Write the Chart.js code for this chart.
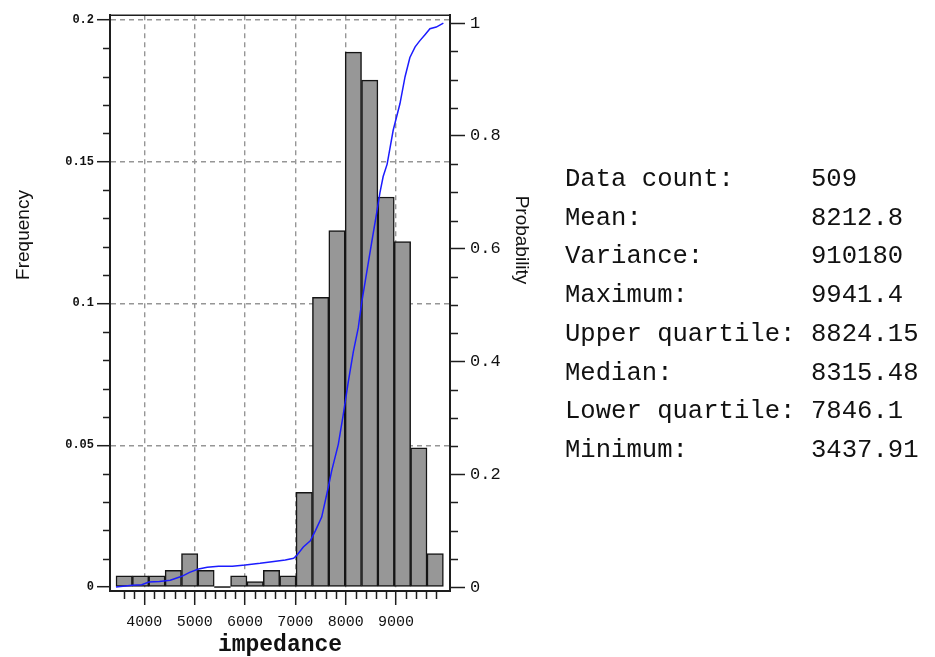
<!DOCTYPE html>
<html>
<head>
<meta charset="utf-8">
<title>impedance histogram</title>
<script src="https://cdn.jsdelivr.net/npm/chart.js@4.4.0/dist/chart.umd.min.js"></script>
<style>
  html, body { margin: 0; padding: 0; background: #fff; }
  #wrap { position: relative; width: 935px; height: 657px; overflow: hidden; }
  #chart { position: absolute; left: 0; top: 0; }
  #stats {
    position: absolute; left: 565px; top: 161px;
    font-family: "Liberation Mono", monospace; font-size: 25.6px; line-height: 38.7px;
    color: #111; white-space: pre;
  }
  #stats .lbl { display: inline-block; width: 246px; }
</style>
</head>
<body>
<div id="wrap">
  <canvas id="chart" width="935" height="657"></canvas>
  <div id="stats"></div>
</div>
<script>
// histogram of impedance: bin centres and sample counts per bin
const binCenters = [3600.5, 3925.7, 4250.8, 4576.0, 4901.2, 5226.3, 5551.5, 5876.7, 6201.8, 6527.0,
                    6852.2, 7177.3, 7502.5, 7827.7, 8152.8, 8478.0, 8803.2, 9128.3, 9453.5, 9778.7];
const binCounts = [2, 2, 2, 3, 6, 3, 0, 2, 1, 3, 2, 17, 52, 64, 96, 91, 70, 62, 25, 6];

// cumulative probability curve
const cdfX = [3438, 3760, 3950, 4090, 4300, 4515, 4745, 4900, 5078, 5250, 5475, 5750, 6005, 6300, 6535,
              6800, 6966, 7027, 7159, 7298, 7400, 7524, 7655, 7722, 7854, 7953, 8052, 8152, 8251, 8319,
              8418, 8517, 8617, 8682, 8745, 8824, 8944, 9078, 9180, 9276, 9380, 9475, 9580, 9674, 9800, 9941];
const cdfP = [0.000, 0.003, 0.004, 0.009, 0.010, 0.012, 0.019, 0.026, 0.032, 0.035, 0.037, 0.037, 0.039, 0.042, 0.045,
              0.048, 0.051, 0.056, 0.071, 0.082, 0.100, 0.124, 0.177, 0.206, 0.253, 0.306, 0.364, 0.417, 0.460, 0.505,
              0.558, 0.611, 0.664, 0.700, 0.728, 0.750, 0.810, 0.857, 0.905, 0.939, 0.958, 0.969, 0.980, 0.990, 0.993, 1.000];

// summary statistics
const statLabels = ['Data count:', 'Mean:', 'Variance:', 'Maximum:', 'Upper quartile:', 'Median:', 'Lower quartile:', 'Minimum:'];
const statValues = ['509', '8212.8', '910180', '9941.4', '8824.15', '8315.48', '7846.1', '3437.91'];

// axis ticks
const xTicks = [4000, 5000, 6000, 7000, 8000, 9000];
const freqTicks = [0, 0.05, 0.1, 0.15, 0.2];
const probTicks = [0, 0.2, 0.4, 0.6, 0.8, 1];

const dataCount = Number(statValues[0]);
const frameColor = '#1e1e1e';
const gridColor = '#969696';

// minor tick values between the labelled ones
const xMinor = [];
for (let v = 3600; v <= 9800; v += 200) if (v % 1000) xMinor.push(v);
const freqMinor = [];
for (let i = 1; i < 20; i++) if (i % 5) freqMinor.push(i / 100);
const probMinor = [];
for (let i = 1; i < 20; i++) if (i % 4) probMinor.push(i / 20);

// frame top, empty-bin baseline, minor ticks and axis titles
const decorations = {
  id: 'decorations',
  afterDatasetsDraw(chart) {
    const { ctx, scales } = chart;
    const base = scales.y.getPixelForValue(0);
    const half = (scales.x.getPixelForValue(binCenters[1]) - scales.x.getPixelForValue(binCenters[0])) / 2;
    ctx.save();
    ctx.strokeStyle = '#151515';
    ctx.lineWidth = 1.5;
    ctx.beginPath();
    binCounts.forEach((c, i) => {
      if (c > 0) return;
      const px = scales.x.getPixelForValue(binCenters[i]);
      ctx.moveTo(px - half, base);
      ctx.lineTo(px + half, base);
    });
    ctx.stroke();
    ctx.restore();
  },
  afterDraw(chart) {
    const { ctx, chartArea: a, scales } = chart;
    ctx.save();
    ctx.strokeStyle = frameColor;
    ctx.lineWidth = 1.5;
    ctx.beginPath();
    ctx.moveTo(a.left, a.top);
    ctx.lineTo(a.right, a.top);
    xMinor.forEach(v => {
      const px = Math.round(scales.x.getPixelForValue(v)) + 0.5;
      ctx.moveTo(px, a.bottom);
      ctx.lineTo(px, a.bottom + 8);
    });
    freqMinor.forEach(v => {
      const py = Math.round(scales.y.getPixelForValue(v)) + 0.5;
      ctx.moveTo(a.left, py);
      ctx.lineTo(a.left - 7, py);
    });
    probMinor.forEach(v => {
      const py = Math.round(scales.y1.getPixelForValue(v)) + 0.5;
      ctx.moveTo(a.right, py);
      ctx.lineTo(a.right + 8, py);
    });
    ctx.stroke();

    ctx.fillStyle = '#111';
    ctx.textAlign = 'center';
    ctx.textBaseline = 'middle';
    ctx.font = '19px "Liberation Sans", Arial, sans-serif';
    ctx.save();
    ctx.translate(24, 235);
    ctx.rotate(-Math.PI / 2);
    ctx.fillText('Frequency', 0, 0);
    ctx.restore();
    ctx.save();
    ctx.translate(521, 240);
    ctx.rotate(Math.PI / 2);
    ctx.fillText('Probability', 0, 0);
    ctx.restore();
    ctx.font = 'bold 23px "Liberation Mono", monospace';
    ctx.fillText('impedance', 280, 645);
    ctx.restore();
  }
};

const sharedGrid = {
  tickColor: frameColor,
  tickWidth: 1.5,
  tickBorderDash: []
};

new Chart(document.getElementById('chart'), {
  type: 'bar',
  data: {
    datasets: [
      {
        type: 'line',
        data: cdfX.map((x, i) => ({ x: x, y: cdfP[i] })),
        yAxisID: 'y1',
        borderColor: '#1c1cff',
        borderWidth: 1.5,
        pointRadius: 0,
        tension: 0,
        order: 0
      },
      {
        type: 'bar',
        data: binCenters.map((x, i) => ({ x: x, y: binCounts[i] / dataCount })),
        yAxisID: 'y',
        backgroundColor: '#979797',
        borderColor: '#151515',
        borderWidth: 1.5,
        borderSkipped: false,
        barPercentage: 1,
        categoryPercentage: 1,
        order: 1
      }
    ]
  },
  options: {
    responsive: false,
    animation: false,
    layout: { padding: { left: 0, right: 395, top: 11, bottom: 0 } },
    plugins: { legend: { display: false }, tooltip: { enabled: false } },
    scales: {
      x: {
        type: 'linear',
        min: 3318.6,
        max: 10072.7,
        offset: false,
        afterBuildTicks: s => { s.ticks = xTicks.map(v => ({ value: v })); },
        afterFit: s => { s.height = 66; },
        grid: Object.assign({ offset: false, color: gridColor, lineWidth: 1.4, tickLength: 14 }, sharedGrid),
        border: { display: true, color: frameColor, width: 2, dash: [5, 4] },
        ticks: {
          color: '#111',
          font: { family: 'Liberation Mono', size: 15 },
          padding: 8,
          maxRotation: 0,
          autoSkip: false,
          callback: v => String(v)
        }
      },
      y: {
        type: 'linear',
        position: 'left',
        min: -0.0014,
        max: 0.20165,
        afterBuildTicks: s => { s.ticks = freqTicks.map(v => ({ value: v })); },
        afterFit: s => { s.width = 110; },
        grid: Object.assign({
          color: c => (c.tick && c.tick.value === 0 ? 'rgba(0,0,0,0)' : gridColor),
          lineWidth: 1.4,
          tickLength: 13
        }, sharedGrid),
        border: { display: true, color: frameColor, width: 2, dash: [5, 4] },
        ticks: {
          color: '#111',
          font: { family: 'Liberation Mono', size: 12, weight: 'bold' },
          padding: 3,
          callback: v => String(v)
        }
      },
      y1: {
        type: 'linear',
        position: 'right',
        min: -0.00704,
        max: 1.01408,
        afterBuildTicks: s => { s.ticks = probTicks.map(v => ({ value: v })); },
        afterFit: s => { s.width = 90; },
        grid: Object.assign({ drawOnChartArea: false, tickLength: 15 }, sharedGrid),
        border: { display: true, color: frameColor, width: 2 },
        ticks: {
          color: '#111',
          font: { family: 'Liberation Mono', size: 17 },
          padding: 5,
          callback: v => String(v)
        }
      }
    }
  },
  plugins: [decorations]
});

// statistics panel
const stats = document.getElementById('stats');
statLabels.forEach((lbl, i) => {
  const row = document.createElement('div');
  row.innerHTML = '<span class="lbl">' + lbl + '</span><span>' + statValues[i] + '</span>';
  stats.appendChild(row);
});
</script>
</body>
</html>
